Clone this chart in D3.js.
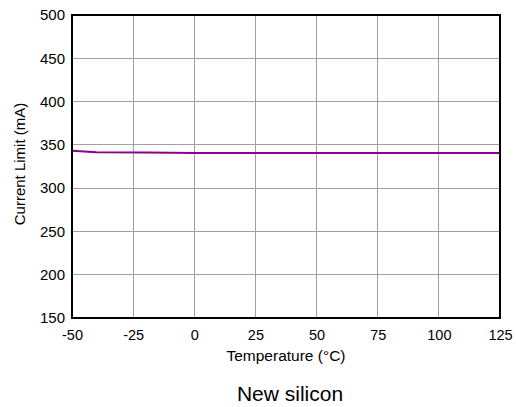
<!DOCTYPE html>
<html><head><meta charset="utf-8">
<script src="https://cdn.jsdelivr.net/npm/d3@7"></script>
<style>body{margin:0;background:#fff}svg{display:block}text{font-family:"Liberation Sans",Arial,sans-serif;fill:#000}</style>
</head><body><svg id="c" width="516" height="407"></svg>
<script>
const temps = [-50, -40, -20, 0, 25, 50, 75, 100, 125];
const currentLimit = [343.3, 341.5, 341.3, 340.7, 340.7, 340.7, 340.7, 340.7, 340.7];
const xTicks = [-50, -25, 0, 25, 50, 75, 100, 125];
const yTicks = [150, 200, 250, 300, 350, 400, 450, 500];

const svg = d3.select("#c");
const L = 72, R = 500, T = 15, B = 318;
const x = d3.scaleLinear().domain([-50, 125]).range([L, R]);
const y = d3.scaleLinear().domain([150, 500]).range([B, T]);

// grid
svg.append("g").selectAll("line").data(xTicks).join("line")
  .attr("x1", d => x(d)).attr("x2", d => x(d)).attr("y1", T).attr("y2", B)
  .attr("stroke", "#a0a0a0").attr("stroke-width", 1).attr("shape-rendering", "crispEdges");
svg.append("g").selectAll("line").data(yTicks).join("line")
  .attr("x1", L).attr("x2", R).attr("y1", d => y(d)).attr("y2", d => y(d))
  .attr("stroke", "#a0a0a0").attr("stroke-width", 1).attr("shape-rendering", "crispEdges");

// data line
svg.append("path").datum(temps.map((t, i) => [t, currentLimit[i]]))
  .attr("d", d3.line().x(d => x(d[0])).y(d => y(d[1])))
  .attr("fill", "none").attr("stroke", "#8b008b").attr("stroke-width", 2);

// frame
svg.append("rect").attr("x", L).attr("y", T).attr("width", R - L).attr("height", B - T)
  .attr("fill", "none").attr("stroke", "#000").attr("stroke-width", 2);

// axes labels
const fmt = d => String(d);
const xa = svg.append("g").attr("transform", `translate(0,${B})`)
  .call(d3.axisBottom(x).tickValues(xTicks).tickSize(0).tickPadding(12).tickFormat(fmt));
xa.select(".domain").remove();
xa.selectAll("text").attr("font-size", 14.5).attr("font-family", "Liberation Sans, Arial, sans-serif");

const ya = svg.append("g").attr("transform", `translate(${L},0)`)
  .call(d3.axisLeft(y).tickValues(yTicks).tickSize(0).tickPadding(7).tickFormat(fmt));
ya.select(".domain").remove();
ya.selectAll("text").attr("font-size", 15).attr("font-family", "Liberation Sans, Arial, sans-serif");

svg.append("text").attr("x", 286).attr("y", 361).attr("text-anchor", "middle")
  .attr("font-size", 15.5).text("Temperature (°C)");
svg.append("text").attr("transform", `translate(24.5,164) rotate(-90)`)
  .attr("text-anchor", "middle").attr("font-size", 15).text("Current Limit (mA)");
svg.append("text").attr("x", 290).attr("y", 401).attr("text-anchor", "middle")
  .attr("font-size", 21).text("New silicon");
</script></body></html>
